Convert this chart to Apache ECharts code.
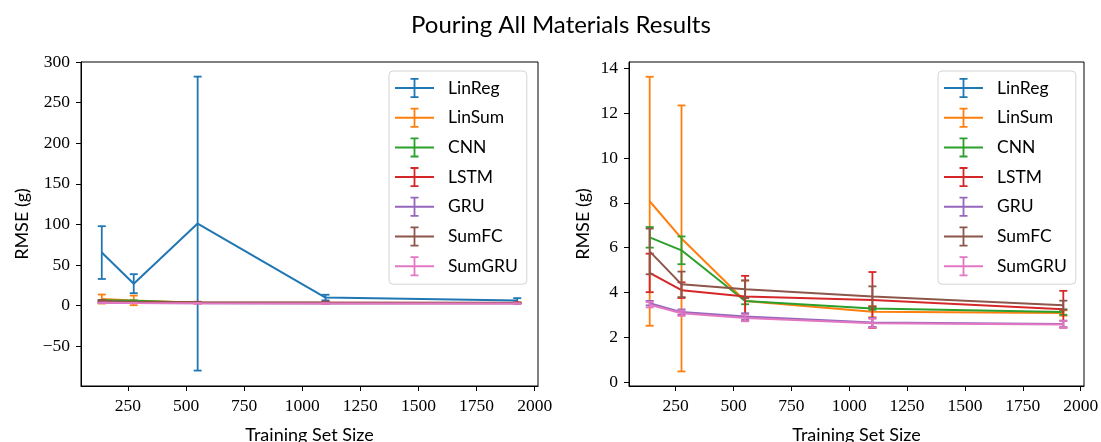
<!DOCTYPE html>
<html>
<head>
<meta charset="utf-8">
<script src="https://cdn.jsdelivr.net/npm/echarts@6/dist/echarts.min.js"></script>
<style>
  html, body { margin: 0; padding: 0; background: #fff; }
  #chart { width: 1101px; height: 442px; }
</style>
</head>
<body>
<div id="chart"></div>
<script>
// training set sizes (x)
const sizes = [137.5, 275, 550, 1100, 1925];

const models = ['LinReg', 'LinSum', 'CNN', 'LSTM', 'GRU', 'SumFC', 'SumGRU'];
const colors = ['#1f77b4', '#ff7f0e', '#2ca02c', '#d62728', '#9467bd', '#8c564b', '#e377c2'];

// mean RMSE and error (+/-) per model
const linRegMean = [65.3, 27.0, 101.0, 9.9, 6.2];
const linRegErr = [32.5, 11.7, 181.0, 3.5, 3.0];
const linSumMean = [8.07, 6.41, 3.62, 3.14, 3.08];
const linSumErr = [5.56, 5.94, 0.9, 0.25, 0.12];
const cnnMean = [6.46, 5.88, 3.62, 3.28, 3.12];
const cnnErr = [0.46, 0.62, 0.15, 0.06, 0.12];
const lstmMean = [4.87, 4.1, 3.82, 3.66, 3.25];
const lstmErr = [0.86, 0.35, 0.92, 1.25, 0.82];
const gruMean = [3.52, 3.12, 2.92, 2.66, 2.59];
const gruErr = [0.1, 0.12, 0.15, 0.2, 0.15];
const sumFcMean = [5.83, 4.36, 4.14, 3.82, 3.43];
const sumFcErr = [1.02, 0.57, 0.4, 0.45, 0.2];
const sumGruMean = [3.45, 3.07, 2.86, 2.62, 2.57];
const sumGruErr = [0.12, 0.12, 0.15, 0.2, 0.15];

const means = [linRegMean, linSumMean, cnnMean, lstmMean, gruMean, sumFcMean, sumGruMean];
const errs = [linRegErr, linSumErr, cnnErr, lstmErr, gruErr, sumFcErr, sumGruErr];

const xTicks = [250, 500, 750, 1000, 1250, 1500, 1750, 2000];
const yTicksLeft = [-50, 0, 50, 100, 150, 200, 250, 300];
const yTicksRight = [0, 2, 4, 6, 8, 10, 12, 14];

const tickFont = 'Liberation Serif';
const textFont = 'Lato';

// line + error bar glyph for the legend
const errIcon = 'path://M0 9H39V11H0Z M18.6 0H20.4V20H18.6Z M15.5 0H23.5V1.8H15.5Z M15.5 18.2H23.5V20H15.5Z';

function renderErr(params, api) {
  const x = api.value(0);
  const top = api.coord([x, api.value(2)]);
  const bot = api.coord([x, api.value(1)]);
  const w = 4;
  const style = { stroke: api.visual('color'), lineWidth: 1.8 };
  return {
    type: 'group',
    children: [
      { type: 'line', shape: { x1: top[0], y1: top[1], x2: bot[0], y2: bot[1] }, style: style },
      { type: 'line', shape: { x1: top[0] - w, y1: top[1], x2: top[0] + w, y2: top[1] }, style: style },
      { type: 'line', shape: { x1: bot[0] - w, y1: bot[1], x2: bot[0] + w, y2: bot[1] }, style: style }
    ]
  };
}

function buildSeries(gridIdx, skip) {
  const out = [];
  models.forEach((name, i) => {
    if (skip.indexOf(name) >= 0) return;
    const line = sizes.map((x, k) => [x, means[i][k]]);
    const bars = sizes.map((x, k) => [x, means[i][k] - errs[i][k], means[i][k] + errs[i][k]]);
    out.push({
      type: 'line',
      name: name,
      xAxisIndex: gridIdx,
      yAxisIndex: gridIdx,
      data: line,
      symbol: 'none',
      z: 10 + i,
      lineStyle: { color: colors[i], width: 2 },
      itemStyle: { color: colors[i] },
      emphasis: { disabled: true }
    });
    out.push({
      type: 'custom',
      name: name,
      xAxisIndex: gridIdx,
      yAxisIndex: gridIdx,
      data: bars,
      encode: { x: 0, y: [1, 2] },
      renderItem: renderErr,
      z: 10 + i,
      itemStyle: { color: colors[i] },
      emphasis: { disabled: true }
    });
  });
  return out;
}

function xAxis(gridIdx) {
  return {
    type: 'value',
    gridIndex: gridIdx,
    min: 48.1,
    max: 2014.4,
    name: 'Training Set Size',
    nameLocation: 'middle',
    nameGap: 40,
    nameTextStyle: { fontFamily: textFont, fontSize: 18, color: '#000' },
    splitLine: { show: false },
    axisLine: { show: true, onZero: false, lineStyle: { color: '#000', width: 1 } },
    axisTick: { show: true, length: 5, lineStyle: { color: '#000' }, customValues: xTicks },
    axisLabel: {
      fontFamily: tickFont, fontSize: 17.5, color: '#000', margin: 11, customValues: xTicks,
      formatter: v => String(v)
    }
  };
}

function yAxis(gridIdx) {
  const ticks = gridIdx === 0 ? yTicksLeft : yTicksRight;
  return {
    type: 'value',
    gridIndex: gridIdx,
    min: gridIdx === 0 ? -99 : -0.18,
    max: gridIdx === 0 ? 300 : 14.29,
    name: 'RMSE (g)',
    nameLocation: 'middle',
    nameGap: gridIdx === 0 ? 50 : 37,
    nameTextStyle: { fontFamily: textFont, fontSize: 18, color: '#000' },
    splitLine: { show: false },
    axisLine: { show: true, onZero: false, lineStyle: { color: '#000', width: 1 } },
    axisTick: { show: true, length: 5, lineStyle: { color: '#000' }, customValues: ticks },
    axisLabel: {
      fontFamily: tickFont, fontSize: 17.5, color: '#000', margin: 11, customValues: ticks,
      formatter: v => String(v).replace('-', '\u2212')
    }
  };
}

function legend(left) {
  return {
    left: left,
    top: 71,
    orient: 'vertical',
    selectedMode: false,
    itemWidth: 39,
    itemHeight: 20,
    itemGap: 9.7,
    padding: [7, 9, 8, 6],
    backgroundColor: 'rgba(255,255,255,0.8)',
    borderColor: '#d4d4d4',
    borderWidth: 1,
    borderRadius: 4,
    itemStyle: { borderWidth: 0 },
    textStyle: { fontFamily: textFont, fontSize: 17.5, lineHeight: 20, color: '#000', padding: [0, 0, 0, 9] },
    data: models.map(m => ({ name: m, icon: errIcon }))
  };
}

const chart = echarts.init(document.getElementById('chart'));
chart.setOption({
  animation: false,
  backgroundColor: '#fff',
  title: {
    text: 'Pouring All Materials Results',
    left: 406,
    top: 8,
    textStyle: { fontFamily: textFont, fontSize: 24, fontWeight: 'normal', color: '#000' }
  },
  legend: [legend(389), legend(938)],
  grid: [
    { left: 81, right: 563, top: 62, bottom: 56, outerBoundsMode: 'none', show: true, borderColor: '#000', borderWidth: 1 },
    { left: 629, right: 17, top: 62, bottom: 56, outerBoundsMode: 'none', show: true, borderColor: '#000', borderWidth: 1 }
  ],
  xAxis: [xAxis(0), xAxis(1)],
  yAxis: [yAxis(0), yAxis(1)],
  series: buildSeries(0, []).concat(buildSeries(1, ['LinReg']))
});
</script>
</body>
</html>
